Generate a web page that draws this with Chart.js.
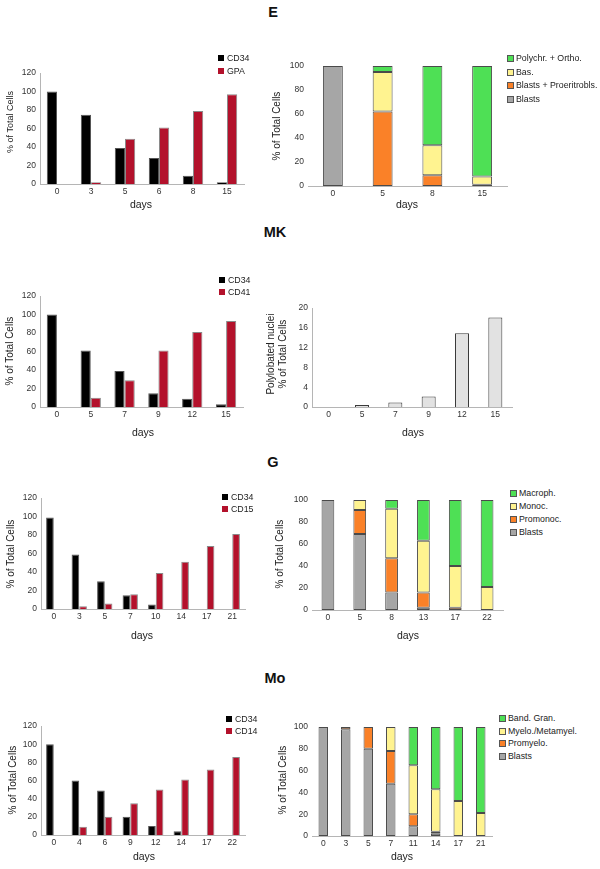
<!DOCTYPE html>
<html>
<head>
<meta charset="utf-8">
<script src="https://cdn.jsdelivr.net/npm/chart.js@4.4.1/dist/chart.umd.min.js"></script>
<style>
    body { margin: 0; width: 600px; height: 869px; position: relative; background: #fff; overflow: hidden;
           font-family: "Liberation Sans", Arial, sans-serif; color: #222; }
    canvas { position: absolute; }
    .title { position: absolute; font-weight: bold; font-size: 14.5px; color: #111; transform: translate(-50%, -50%); }
    .xt { position: absolute; font-size: 10.5px; transform: translate(-50%, -50%); white-space: nowrap; }
    .yt { position: absolute; font-size: 10px; transform: translate(-50%, -50%) rotate(-90deg); white-space: nowrap;
          text-align: center; line-height: 12px; }
    .leg { position: absolute; font-size: 8.8px; transform: translateY(-50%); display: flex; align-items: center; white-space: nowrap; }
    .sw { display: inline-block; box-sizing: border-box; }
</style>
</head>
<body>

<div class="title" style="left:273px; top:12px;">E</div>
<div class="title" style="left:275px; top:232px;">MK</div>
<div class="title" style="left:273px; top:462px;">G</div>
<div class="title" style="left:275px; top:678px;">Mo</div>

<canvas id="eLeft"></canvas>
<canvas id="eRight"></canvas>
<canvas id="mkLeft"></canvas>
<canvas id="mkRight"></canvas>
<canvas id="gLeft"></canvas>
<canvas id="gRight"></canvas>
<canvas id="moLeft"></canvas>
<canvas id="moRight"></canvas>

<div class="yt" style="left:10px; top:122px; font-size:9px;">% of Total Cells</div>
<div class="yt" style="left:277px; top:126px;">% of Total Cells</div>
<div class="yt" style="left:10px; top:351px;">% of Total Cells</div>
<div class="yt" style="left:277px; top:354px;">Polylobated nuclei<br>% of Total Cells</div>
<div class="yt" style="left:11px; top:554px;">% of Total Cells</div>
<div class="yt" style="left:280px; top:554px;">% of Total Cells</div>
<div class="yt" style="left:13px; top:780px;">% of Total Cells</div>
<div class="yt" style="left:283px; top:780px;">% of Total Cells</div>

<div class="xt" style="left:141px; top:204px;">days</div>
<div class="xt" style="left:407px; top:204px;">days</div>
<div class="xt" style="left:143px; top:432px;">days</div>
<div class="xt" style="left:413px; top:432px;">days</div>
<div class="xt" style="left:142px; top:635px;">days</div>
<div class="xt" style="left:408px; top:635px;">days</div>
<div class="xt" style="left:144px; top:856px;">days</div>
<div class="xt" style="left:402px; top:856px;">days</div>

<script>
// E
const eDays = ['0', '3', '5', '6', '8', '15'];
const eCD34 = [100, 75, 39, 28, 9, 2];
const eGPA = [0, 2, 49, 61, 79, 97];
const eStackDays = ['0', '5', '8', '15'];
const eBlasts = [100, 0, 0, 0];
const eProeritro = [0, 62, 9, 1];
const eBas = [0, 33, 25, 7];
const ePolyOrtho = [0, 5, 66, 92];

// MK
const mkDays = ['0', '5', '7', '9', '12', '15'];
const mkCD34 = [100, 61, 39, 15, 9, 3];
const mkCD41 = [0, 10, 29, 61, 81, 93];
const mkPolylobated = [0, 0.4, 0.9, 2.1, 14.9, 18.1];

// G
const gDays = ['0', '3', '5', '7', '10', '14', '17', '21'];
const gCD34 = [99, 59, 30, 15, 5, 0, 0, 0];
const gCD15 = [0, 3, 6, 16, 39, 51, 68, 81];
const gStackDays = ['0', '5', '8', '13', '17', '22'];
const gBlasts = [100, 69, 16, 2, 0, 0];
const gPromonoc = [0, 22, 31, 14, 2, 0];
const gMonoc = [0, 9, 45, 47, 38, 21];
const gMacroph = [0, 0, 8, 37, 60, 79];

// Mo
const moDays = ['0', '4', '6', '9', '12', '14', '17', '22'];
const moCD34 = [100, 60, 49, 20, 10, 4, 0, 0];
const moCD14 = [0, 9, 20, 35, 50, 61, 72, 86];
const moStackDays = ['0', '3', '5', '7', '11', '14', '17', '21'];
const moBlasts = [100, 98, 80, 48, 9, 2, 0, 0];
const moPromyelo = [0, 2, 20, 30, 11, 2, 0, 0];
const moMyelo = [0, 0, 0, 22, 45, 39, 32, 21];
const moBand = [0, 0, 0, 0, 35, 57, 68, 79];

const BLACK = '#000000', RED = '#b3112b';
const GRAY = '#a6a6a6', ORANGE = '#fa8128', YELLOW = '#fff390', GREEN = '#4ee055';
const FONT = { family: '"Liberation Sans", Arial, sans-serif', size: 8.5 };
const AXIS = 40, XAXIS = 22, TOP = 12, RIGHT = 6;

// size and place a canvas so that its plot area lands on the given box
function placeCanvas(id, plot) {
    const c = document.getElementById(id);
    c.width = Math.round(plot.r - plot.l) + AXIS + RIGHT;
    c.height = Math.round(plot.b - plot.t) + TOP + XAXIS;
    c.style.left = (Math.round(plot.l) - AXIS) + 'px';
    c.style.top = (Math.round(plot.t) - TOP) + 'px';
    return c.getContext('2d');
}

function options(yMax, yStep, stacked, yBorder) {
    return {
        responsive: false,
        animation: false,
        layout: { padding: { top: TOP, right: RIGHT, left: 0, bottom: 0 } },
        plugins: { legend: { display: false }, tooltip: { enabled: false } },
        scales: {
            x: {
                stacked: stacked,
                grid: { display: false, drawTicks: false },
                border: { display: true, color: '#b5b5b5', width: 1 },
                ticks: { font: FONT, color: '#333', padding: 3, maxRotation: 0, autoSkip: false },
                afterFit: s => { s.height = XAXIS; }
            },
            y: {
                stacked: stacked,
                min: 0, max: yMax,
                grid: { display: false, drawTicks: false },
                border: { display: yBorder, color: '#b5b5b5', width: 1 },
                ticks: { stepSize: yStep, font: FONT, color: '#333', padding: 4 },
                afterFit: s => { s.width = AXIS; }
            }
        }
    };
}

function pairChart(id, plot, labels, a, b, nameA, nameB) {
    return new Chart(placeCanvas(id, plot), {
        type: 'bar',
        data: {
            labels: labels,
            datasets: [
                { label: nameA, data: a, backgroundColor: BLACK, borderColor: '#555', borderWidth: 1,
                  categoryPercentage: 0.6, barPercentage: 1.0 },
                { label: nameB, data: b, backgroundColor: RED, borderColor: '#8a8a8a', borderWidth: 1,
                  categoryPercentage: 0.6, barPercentage: 1.0 }
            ]
        },
        options: options(120, 20, false, true)
    });
}

function stackChart(id, plot, labels, sets, barPct) {
    return new Chart(placeCanvas(id, plot), {
        type: 'bar',
        data: {
            labels: labels,
            datasets: sets.map(s => ({
                label: s[0], data: s[1], backgroundColor: s[2],
                borderColor: '#4a4a4a', borderWidth: 1, borderSkipped: false,
                categoryPercentage: 1.0, barPercentage: barPct
            }))
        },
        options: options(100, 20, true, false)
    });
}

// legend rows drawn from the chart's own datasets
function legend(chart, x, ys, box, boxed, gap) {
    const sets = chart.data.datasets.slice();
    if (boxed) sets.reverse();
    sets.forEach((ds, i) => {
        const row = document.createElement('div');
        row.className = 'leg';
        row.style.left = x + 'px';
        row.style.top = ys[i] + 'px';
        const sw = document.createElement('span');
        sw.className = 'sw';
        sw.style.width = box + 'px';
        sw.style.height = box + 'px';
        sw.style.marginRight = gap + 'px';
        sw.style.background = ds.backgroundColor;
        if (boxed) sw.style.border = '1px solid #555';
        row.appendChild(sw);
        row.appendChild(document.createTextNode(ds.label));
        document.body.appendChild(row);
    });
}

const eL = pairChart('eLeft', { l: 40, r: 244, t: 73, b: 184 }, eDays, eCD34, eGPA, 'CD34', 'GPA');
legend(eL, 218, [58, 71], 6, false, 3);

const eR = stackChart('eRight', { l: 308, r: 507, t: 66, b: 186 }, eStackDays, [
    ['Blasts', eBlasts, GRAY],
    ['Blasts + Proeritrobls.', eProeritro, ORANGE],
    ['Bas.', eBas, YELLOW],
    ['Polychr. + Ortho.', ePolyOrtho, GREEN]
], 0.4);
legend(eR, 507, [58, 72, 85, 99], 7, true, 2);

const mkL = pairChart('mkLeft', { l: 40, r: 243, t: 296, b: 407 }, mkDays, mkCD34, mkCD41, 'CD34', 'CD41');
legend(mkL, 219, [280, 292], 6, false, 3);

const mkOpts = options(20, 4, false, true);
new Chart(placeCanvas('mkRight', { l: 312, r: 512, t: 308, b: 407 }), {
    type: 'bar',
    data: {
        labels: mkDays,
        datasets: [{
            label: 'Polylobated nuclei',
            data: mkPolylobated,
            backgroundColor: '#e2e2e2',
            borderColor: '#3a3a3a',
            borderWidth: 1,
            categoryPercentage: 1.0,
            barPercentage: 0.42
        }]
    },
    options: mkOpts
});

const gL = pairChart('gLeft', { l: 41, r: 245, t: 498, b: 609 }, gDays, gCD34, gCD15, 'CD34', 'CD15');
legend(gL, 222, [497, 509], 6, false, 3);

const gR = stackChart('gRight', { l: 312, r: 503, t: 500, b: 610 }, gStackDays, [
    ['Blasts', gBlasts, GRAY],
    ['Promonoc.', gPromonoc, ORANGE],
    ['Monoc.', gMonoc, YELLOW],
    ['Macroph.', gMacroph, GREEN]
], 0.4);
legend(gR, 510, [493, 506, 519, 532], 7, true, 2);

const moL = pairChart('moLeft', { l: 41, r: 245, t: 726, b: 835 }, moDays, moCD34, moCD14, 'CD34', 'CD14');
legend(moL, 226, [719, 731], 6, false, 3);

const moR = stackChart('moRight', { l: 312, r: 492, t: 727, b: 836 }, moStackDays, [
    ['Blasts', moBlasts, GRAY],
    ['Promyelo.', moPromyelo, ORANGE],
    ['Myelo./Metamyel.', moMyelo, YELLOW],
    ['Band. Gran.', moBand, GREEN]
], 0.42);
legend(moR, 499, [718, 731, 743, 756], 7, true, 2);
</script>
</body>
</html>
